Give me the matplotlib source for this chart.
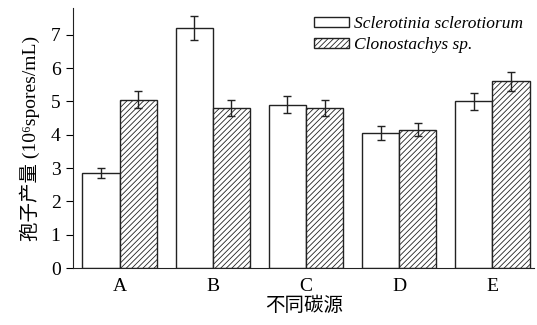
import numpy as np
import matplotlib.pyplot as plt

plt.rcParams['font.family'] = ['Liberation Serif', 'Noto Sans CJK SC', 'DejaVu Serif']
plt.rcParams['hatch.linewidth'] = 0.6

categories = ['A', 'B', 'C', 'D', 'E']
sclerotinia = [2.85, 7.2, 4.9, 4.05, 5.0]
sclerotinia_err = [0.15, 0.35, 0.25, 0.2, 0.25]
clonostachys = [5.05, 4.8, 4.8, 4.15, 5.6]
clonostachys_err = [0.25, 0.25, 0.25, 0.2, 0.28]

x = np.arange(len(categories))
w = 0.4

fig, ax = plt.subplots(figsize=(5.37, 3.25), dpi=100)
fig.subplots_adjust(left=0.136, right=0.995, top=0.975, bottom=0.175)

ekw = dict(elinewidth=1, capthick=1, ecolor='#222222')
ax.bar(x - w/2, sclerotinia, w, yerr=sclerotinia_err, capsize=3,
       color='white', edgecolor='#222222', linewidth=1, error_kw=ekw,
       label='Sclerotinia sclerotiorum')
ax.bar(x + w/2, clonostachys, w, yerr=clonostachys_err, capsize=3,
       color='white', edgecolor='#222222', linewidth=1, hatch='//////', error_kw=ekw,
       label='Clonostachys sp.')

ax.set_xlim(-0.5, 4.45)
ax.set_ylim(0, 7.8)
ax.set_yticks(range(8))
ax.set_xticks(x)
ax.set_xticklabels(categories)
ax.tick_params(axis='x', length=0, pad=7, labelsize=14)
ax.tick_params(axis='y', direction='out', length=5, labelsize=14, pad=4)
ax.spines['top'].set_visible(False)
ax.spines['right'].set_visible(False)
for s in ['left', 'bottom']:
    ax.spines[s].set_color('#222222')

ax.set_xlabel('不同碳源', fontsize=14, labelpad=1)
ax.set_ylabel('孢子产量 (10⁶spores/mL)', fontsize=14, labelpad=8)

leg = ax.legend(loc='upper right', bbox_to_anchor=(1.01, 1.03), frameon=False,
                prop={'style': 'italic', 'size': 12.5, 'family': 'Liberation Serif'},
                handlelength=2.0, handleheight=0.5, handletextpad=0.3, labelspacing=0.3)

fig.savefig('out.png', dpi=100)
